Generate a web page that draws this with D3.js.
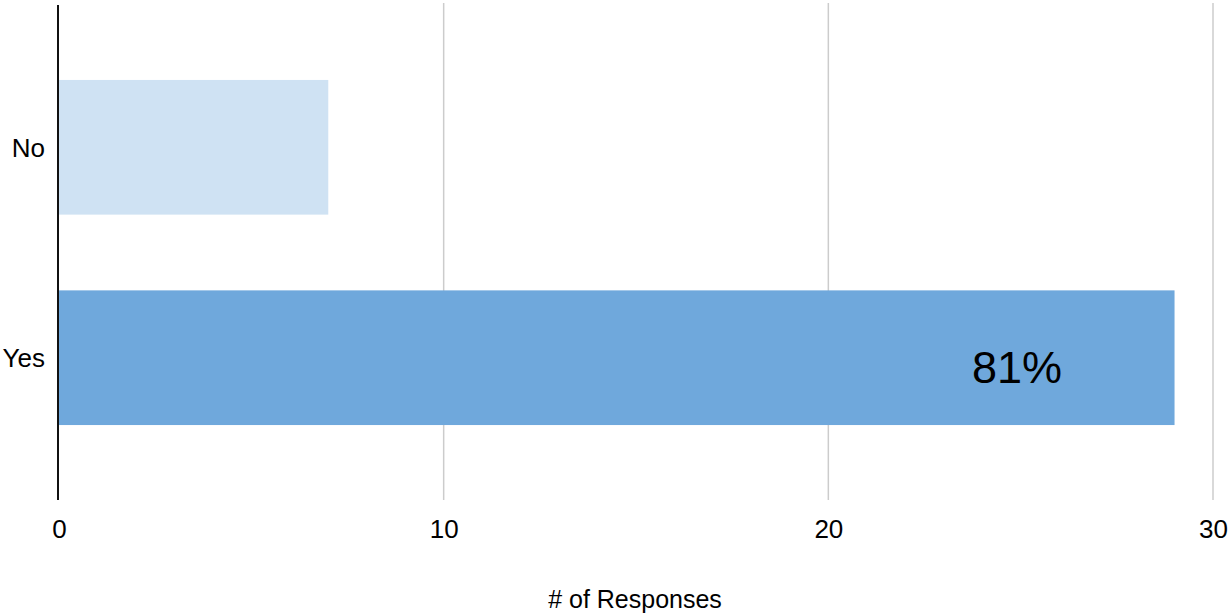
<!DOCTYPE html>
<html>
<head>
<meta charset="utf-8">
<script src="https://cdn.jsdelivr.net/npm/d3@7"></script>
<style>
  html, body { margin: 0; padding: 0; background: #fff; }
  svg { display: block; font-family: "Liberation Sans", Arial, sans-serif; }
</style>
</head>
<body>
<svg id="chart" width="1229" height="614"></svg>
<script>
const categories = ["No", "Yes"];
const values = [7, 29];
const barColors = ["#cfe2f3", "#6fa8dc"];
const xTicks = [0, 10, 20, 30];
const xTitle = "# of Responses";
const annotation = { category: "Yes", text: "81%" };

const svg = d3.select("#chart");
const x = d3.scaleLinear().domain([0, 30]).range([59, 1213]);
const y = d3.scaleBand().domain(categories).range([0, 505]).paddingInner(0.36).paddingOuter(0.38);

const gridTop = 3, gridBottom = 500;

// gridlines
svg.append("g").selectAll("line").data(xTicks.filter(d => d !== 0)).join("line")
  .attr("x1", d => x(d)).attr("x2", d => x(d))
  .attr("y1", gridTop).attr("y2", gridBottom)
  .attr("stroke", "#cccccc").attr("stroke-width", 1.5);

// bars
svg.append("g").selectAll("rect").data(categories).join("rect")
  .attr("x", x(0))
  .attr("y", d => y(d))
  .attr("width", (d, i) => x(values[i]) - x(0))
  .attr("height", y.bandwidth())
  .attr("fill", (d, i) => barColors[i]);

// x axis tick labels
const xAxis = d3.axisBottom(x).tickValues(xTicks).tickSize(0).tickPadding(0).tickFormat(d3.format("d"));
const gx = svg.append("g").attr("transform", `translate(0,${gridBottom})`).call(xAxis);
gx.select(".domain").remove();
gx.selectAll("text")
  .attr("dy", null).attr("y", 38)
  .attr("font-size", 26).attr("fill", "#000")
  .attr("font-family", "Liberation Sans, Arial, sans-serif");

// y axis labels
const yAxis = d3.axisLeft(y).tickSize(0).tickPadding(0);
const gy = svg.append("g").attr("transform", "translate(45,0)").call(yAxis);
gy.select(".domain").remove();
gy.selectAll("text")
  .attr("dy", "0.36em").attr("x", 0)
  .attr("font-size", 26).attr("fill", "#000")
  .attr("font-family", "Liberation Sans, Arial, sans-serif");

// vertical baseline
svg.append("line")
  .attr("x1", x(0) - 1).attr("x2", x(0) - 1)
  .attr("y1", 5).attr("y2", gridBottom)
  .attr("stroke", "#111").attr("stroke-width", 2);

// annotation
svg.append("text")
  .attr("x", 1017)
  .attr("y", y(annotation.category) + y.bandwidth() / 2 + 25)
  .attr("text-anchor", "middle")
  .attr("font-size", 45).attr("fill", "#000")
  .text(annotation.text);

// x title
svg.append("text")
  .attr("x", 635).attr("y", 608)
  .attr("text-anchor", "middle")
  .attr("font-size", 25).attr("fill", "#000")
  .text(xTitle);
</script>
</body>
</html>
